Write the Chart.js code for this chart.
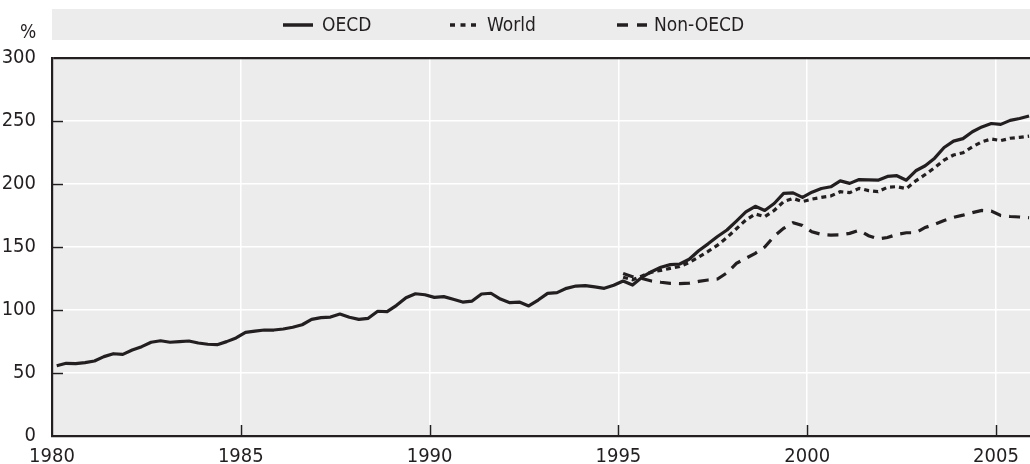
<!DOCTYPE html>
<html>
<head>
<meta charset="utf-8">
<script src="https://cdn.jsdelivr.net/npm/chart.js@4.4.1/dist/chart.umd.min.js"></script>
<style>
  html, body { margin: 0; padding: 0; background: #ffffff; }
  #wrap { width: 1030px; height: 464px; position: relative; }
</style>
</head>
<body>
<div id="wrap"><canvas id="c" width="1030" height="464"></canvas></div>
<script>
// ---- Data (quarterly, 1980Q1 - 2005Q4) ----
const startYear = 1980;
const endYear = 2005;
const quarters = [];
for (let y = startYear; y <= endYear; y++) {
  for (let q = 1; q <= 4; q++) quarters.push(y + 'Q' + q);
}

const oecd = [
  55.8, 57.7, 57.4, 58.2,
  59.5, 63.0, 65.3, 64.8,
  68.2, 70.9, 74.4, 75.6,
  74.4, 74.9, 75.4, 73.8,
  72.8, 72.5, 74.9, 77.8,
  82.3, 83.3, 84.1, 84.1,
  84.9, 86.3, 88.3, 92.6,
  93.9, 94.4, 96.8, 94.2,
  92.6, 93.4, 99.0, 98.7,
  103.7, 109.8, 112.9, 112.1,
  110.0, 110.6, 108.5, 106.3,
  107.1, 112.7, 113.3, 108.7,
  105.8, 106.3, 103.2, 107.9,
  113.2, 113.8, 117.2, 119.0,
  119.3, 118.3, 117.2, 119.6,
  123.0, 119.8, 126.0, 130.4,
  133.9, 136.0, 136.5, 140.3,
  147.0, 152.5, 158.3, 163.5,
  170.5, 177.8, 182.3, 179.0,
  184.5, 192.5, 193.0, 189.4,
  193.5, 196.4, 197.8, 202.5,
  200.5, 203.5, 203.2, 203.0,
  206.0, 206.6, 203.0, 210.5,
  214.5, 220.5, 229.0, 234.0,
  236.0, 241.5, 245.3, 248.0,
  247.3, 250.5, 252.0, 254.0
];

const world = [
  null, null, null, null, null, null, null, null, null, null, null, null,
  null, null, null, null, null, null, null, null, null, null, null, null,
  null, null, null, null, null, null, null, null, null, null, null, null,
  null, null, null, null, null, null, null, null, null, null, null, null,
  null, null, null, null, null, null, null, null, null, null, null, null,
  126.0, 124.0, 127.0, 130.0,
  131.5, 133.0, 134.5, 137.6,
  142.0, 146.5, 151.5, 157.5,
  164.5, 171.4, 176.2, 174.0,
  179.0, 186.0, 188.6, 186.0,
  188.0, 189.4, 190.5, 193.9,
  193.1, 196.5, 194.8, 193.9,
  197.4, 197.9, 196.3, 202.5,
  207.5, 213.0, 219.0, 223.0,
  224.8, 229.5, 233.5, 235.7,
  234.4, 236.3, 237.0, 238.0
];

const nonOecd = [
  null, null, null, null, null, null, null, null, null, null, null, null,
  null, null, null, null, null, null, null, null, null, null, null, null,
  null, null, null, null, null, null, null, null, null, null, null, null,
  null, null, null, null, null, null, null, null, null, null, null, null,
  null, null, null, null, null, null, null, null, null, null, null, null,
  129.0, 126.4, 125.0, 123.0,
  122.0, 121.2, 121.0, 121.3,
  122.7, 123.8, 124.6, 129.5,
  137.0, 141.0, 145.0, 150.0,
  158.5, 164.8, 169.3, 167.0,
  162.0, 160.0, 159.5, 159.6,
  160.8, 163.3, 159.0, 156.5,
  157.5, 160.0, 161.3, 161.3,
  165.5, 168.0, 171.0, 173.5,
  175.3, 177.3, 179.0, 178.5,
  175.0, 174.2, 173.8, 173.2
];

const seriesLabels = ['OECD', 'World', 'Non-OECD'];
const xTickLabels = [1980, 1985, 1990, 1995, 2000, 2005];
const yTickLabels = [0, 50, 100, 150, 200, 250, 300];
const yUnit = '%';

// ---- helpers ----
function qToX(label) {
  const y = parseInt(label.slice(0, 4), 10);
  const q = parseInt(label.slice(5), 10);
  return y + (q - 0.5) / 4;
}
function toPoints(values) {
  return quarters.map((q, i) => ({ x: qToX(q), y: values[i] }));
}

const INK = '#231f20';
const BG = '#ececec';
const FONT = "'Liberation Sans Narrow', 'Arial Narrow', 'DejaVu Sans Condensed', sans-serif";

const legendDash = [[], [5, 5.5], [11, 9]];

const decorPlugin = {
  id: 'decor',
  beforeDraw(chart) {
    const { ctx, chartArea } = chart;
    ctx.save();
    ctx.fillStyle = BG;
    ctx.fillRect(chartArea.left, chartArea.top, chartArea.right - chartArea.left, chartArea.bottom - chartArea.top);
    // legend band
    ctx.fillRect(chartArea.left, 9, chart.width - chartArea.left, 31);
    ctx.restore();
  },
  afterDatasetsDraw(chart) {
    const { ctx, chartArea, scales } = chart;
    ctx.save();
    // inward tick marks
    ctx.strokeStyle = INK;
    ctx.lineWidth = 1.5;
    yTickLabels.forEach(v => {
      if (v === 0 || v === 300) return;
      const py = Math.round(scales.y.getPixelForValue(v)) + 0.5;
      ctx.beginPath();
      ctx.moveTo(chartArea.left, py);
      ctx.lineTo(chartArea.left + 11, py);
      ctx.stroke();
    });
    xTickLabels.forEach(v => {
      if (v === 1980) return;
      const px = Math.round(scales.x.getPixelForValue(v)) + 0.5;
      ctx.beginPath();
      ctx.moveTo(px, chartArea.bottom);
      ctx.lineTo(px, chartArea.bottom - 11);
      ctx.stroke();
    });
    ctx.restore();
  },
  afterDraw(chart) {
    const { ctx } = chart;
    ctx.save();
    // unit label
    ctx.fillStyle = INK;
    ctx.font = '19px ' + FONT;
    ctx.textAlign = 'center';
    ctx.textBaseline = 'middle';
    ctx.fillText(yUnit, 28, 33);
    // legend
    const items = [
      { x0: 283, x1: 313, tx: 322 },
      { x0: 450, x1: 477, tx: 487 },
      { x0: 617, x1: 647, tx: 654 }
    ];
    const ly = 25;
    ctx.textAlign = 'left';
    ctx.font = '19px ' + FONT;
    items.forEach((it, i) => {
      ctx.strokeStyle = INK;
      ctx.lineWidth = 3.5;
      ctx.lineCap = 'butt';
      ctx.setLineDash(legendDash[i]);
      ctx.beginPath();
      ctx.moveTo(it.x0, ly);
      ctx.lineTo(it.x1, ly);
      ctx.stroke();
      ctx.setLineDash([]);
      ctx.fillStyle = INK;
      ctx.fillText(chart.data.datasets[i].label, it.tx, ly + 1);
    });
    ctx.restore();
  }
};

Chart.defaults.font.family = FONT;
Chart.defaults.font.size = 20;
Chart.defaults.color = INK;

new Chart(document.getElementById('c'), {
  type: 'line',
  data: {
    datasets: [
      { label: seriesLabels[0], data: toPoints(oecd), borderColor: INK, borderWidth: 3.2, borderDash: [], pointRadius: 0, tension: 0, borderJoinStyle: 'round', fill: false },
      { label: seriesLabels[1], data: toPoints(world), borderColor: INK, borderWidth: 3.2, borderDash: [5, 4], pointRadius: 0, tension: 0, borderCapStyle: 'butt', fill: false },
      { label: seriesLabels[2], data: toPoints(nonOecd), borderColor: INK, borderWidth: 3.2, borderDash: [11, 8], pointRadius: 0, tension: 0, borderCapStyle: 'butt', fill: false }
    ]
  },
  options: {
    responsive: false,
    animation: false,
    devicePixelRatio: 1,
    layout: { padding: { top: 58, left: 0, right: 0, bottom: 0 } },
    plugins: { legend: { display: false }, tooltip: { enabled: false } },
    scales: {
      x: {
        type: 'linear',
        min: 1980,
        max: 2005.9,
        afterFit(scale) { scale.height = 28; },
        afterBuildTicks(scale) { scale.ticks = xTickLabels.map(v => ({ value: v })); },
        grid: {
          drawTicks: false,
          color: ctx => (ctx.tick && ctx.tick.value === 1980) ? 'rgba(0,0,0,0)' : '#ffffff',
          lineWidth: 1.5
        },
        border: { color: INK, width: 2.2 },
        ticks: { padding: 9, color: INK, font: { size: 20 }, maxRotation: 0, autoSkip: false, callback: v => String(v) }
      },
      y: {
        type: 'linear',
        min: 0,
        max: 300,
        afterFit(scale) { scale.width = 52; },
        afterBuildTicks(scale) { scale.ticks = yTickLabels.map(v => ({ value: v })); },
        grid: {
          drawTicks: false,
          color: ctx => (ctx.tick && ctx.tick.value === 300) ? INK : (ctx.tick && ctx.tick.value === 0 ? 'rgba(0,0,0,0)' : '#ffffff'),
          lineWidth: ctx => (ctx.tick && ctx.tick.value === 300) ? 2.2 : 1.5
        },
        border: { color: INK, width: 2.2 },
        ticks: { padding: 16, color: INK, font: { size: 20 }, callback: v => String(v) }
      }
    }
  },
  plugins: [decorPlugin]
});
</script>
</body>
</html>
